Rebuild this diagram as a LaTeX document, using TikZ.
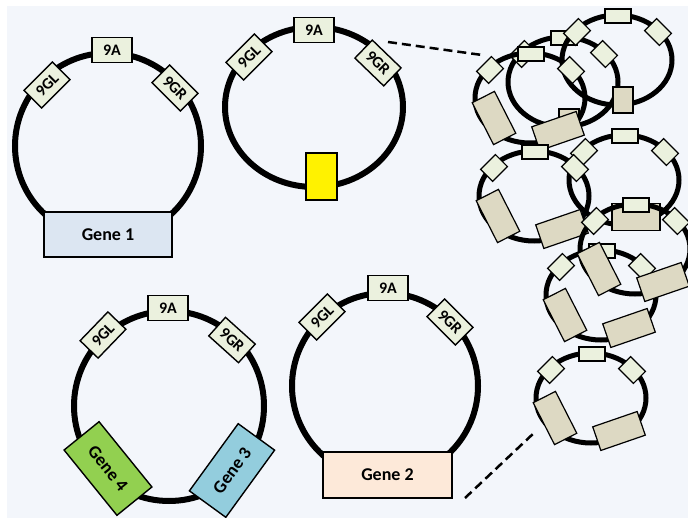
\documentclass[tikz,border=0pt]{standalone}
\usepackage{fontspec}
\setmainfont{Carlito}
\definecolor{bgblue}{HTML}{F3F6FB}
\definecolor{tagfill}{HTML}{EBF1DE}
\definecolor{genetan}{HTML}{DDD9C3}
\definecolor{geneone}{HTML}{DCE6F2}
\definecolor{genetwo}{HTML}{FDE9D9}
\definecolor{genethree}{HTML}{93CDDD}
\definecolor{genefour}{HTML}{92D050}
\tikzset{
  ring/.style={line width=6pt},
  minring/.style={line width=5pt},
  tag/.style={draw, line width=1.4pt, fill=tagfill, inner sep=0pt,
    minimum width=40pt, minimum height=25pt, font=\fontsize{16}{16}\selectfont\bfseries},
  gene/.style={draw, line width=1.4pt, inner sep=0pt,
    minimum width=128pt, minimum height=45pt, font=\fontsize{18}{18}\selectfont\bfseries},
  minitag/.style={draw, line width=1.2pt, fill=tagfill, inner sep=0pt,
    minimum width=26pt, minimum height=14pt},
  minigene/.style={draw, line width=1.2pt, fill=genetan, inner sep=0pt,
    minimum width=47pt, minimum height=25pt},
  zoomline/.style={dashed, dash pattern=on 9pt off 5pt, line width=2.5pt}
}
\begin{document}
\begin{tikzpicture}[x=1pt, y=-1pt]
\useasboundingbox (0,0) rectangle (688,518);
\fill[white] (0,0) rectangle (688,518);
\fill[bgblue] (7,6) rectangle (688,518);
% plasmid with gene 1
\draw[ring] (108,146) circle (93pt);
\node[tag] (a1) at (112,50) {9A};
\node[tag, rotate=45] (gl1) at (47,85) {9GL};
\node[tag, rotate=-45] (gr1) at (175,88) {9GR};
\node[gene, fill=geneone] (g1) at (108,234.5) {Gene 1};
% empty plasmid
\draw[ring] (314,107) ellipse [x radius=89pt, y radius=80pt];
\node[tag] (a2) at (314,30) {9A};
\node[tag, rotate=45] (gl2) at (249,57) {9GL};
\node[tag, rotate=-44] (gr2) at (378,63) {9GR};
\node[draw, line width=1.4pt, fill=yellow, minimum width=31pt, minimum height=47pt] (ins) at (321.5,176.5) {};
% plasmid with genes 3 and 4
\draw[ring] (169,406) circle (95pt);
\node[tag] (a3) at (168,308) {9A};
\node[tag, rotate=46] (gl3) at (103,335) {9GL};
\node[tag, rotate=-42] (gr3) at (232,340) {9GR};
\node[gene, fill=genefour, minimum width=84pt, rotate=-51] (g4) at (108,468.5) {Gene 4};
\node[gene, fill=genethree, minimum width=83pt, rotate=54] (g3) at (232,470.5) {Gene 3};
% plasmid with gene 2
\draw[ring] (385,386) circle (93pt);
\node[tag] (a4) at (388,288) {9A};
\node[tag, rotate=45] (gl4) at (322,317) {9GL};
\node[tag, rotate=-45] (gr4) at (450,322) {9GR};
\node[gene, fill=genetwo, minimum width=129pt, minimum height=46pt] (g2) at (387.5,475) {Gene 2};
% library of plasmids
\foreach \cx/\cy/\kind [count=\k] in {563/82/2, 617/60/2, 530/98/0, 624/180/1,
    534/196/0, 601/295/0, 635/249/0, 591/398/0}{
  \begin{scope}[shift={(\cx,\cy)}]
    \draw[minring] (0,0) ellipse [x radius=55pt, y radius=45pt];
    \node[minitag] (m\k-a) at (1,-44) {};
    \node[minitag, minimum width=21pt, minimum height=17pt, rotate=45] (m\k-gl) at (-40,-28) {};
    \node[minitag, minimum width=21pt, minimum height=17pt, rotate=-45] (m\k-gr) at (41,-28) {};
    \ifcase\kind
      \node[minigene, rotate=-63] (m\k-l) at (-36,20) {};
      \node[minigene, rotate=19] (m\k-r) at (28,33) {};
    \or
      \node[minigene, minimum width=48pt, minimum height=27pt] (m\k-b) at (12,37) {};
    \or
      \node[minigene, minimum width=20pt, minimum height=26pt] (m\k-b) at (6,40) {};
    \fi
  \end{scope}
}
\coordinate (z1) at (388,42);
\coordinate (z2) at (482,55);
\coordinate (z3) at (465,498);
\coordinate (z4) at (535,432);
\draw[zoomline] (z1) -- (z2);
\draw[zoomline] (z3) -- (z4);
\end{tikzpicture}
\end{document}
